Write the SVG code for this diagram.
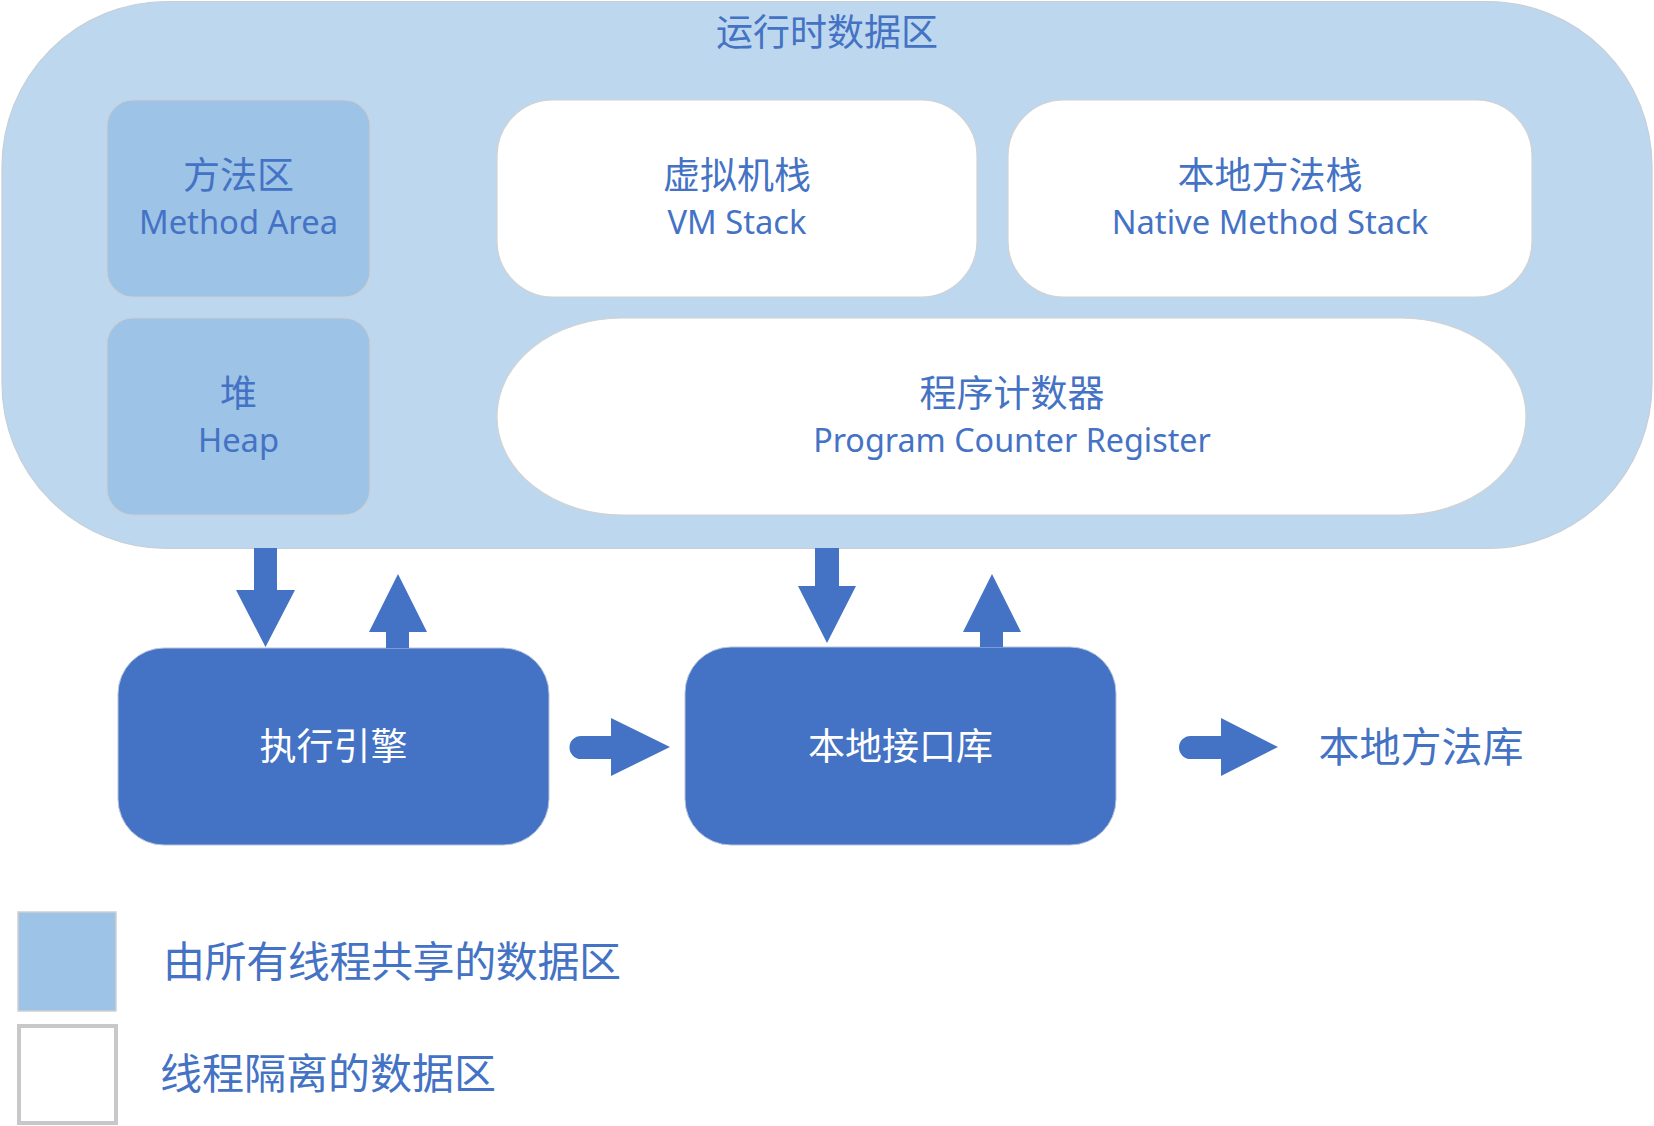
<svg xmlns="http://www.w3.org/2000/svg" width="1654" height="1126" viewBox="0 0 1654 1126">
<style>
text{font-family:"Noto Sans","Noto Sans CJK SC",sans-serif;text-anchor:middle;fill:#4472C4}
.cjk{font-size:37px}
.lat{font-size:32.7px}
.white{fill:#FFFFFF}
.shared{fill:#9DC3E6;stroke:#CFCFCF;stroke-width:1.2}
.private{fill:#FFFFFF;stroke:#D2D2D2;stroke-width:1.2}
.engine{fill:#4472C4;stroke:#B8C4D8;stroke-width:1}
.arrow{fill:#4472C4}
</style>
<g id="runtime-data-area">
<rect x="2" y="1.5" width="1650" height="547" rx="165" ry="165" fill="#BDD7EE" stroke="#C6CFD9" stroke-width="1.2"/>
<text x="827" y="46" style="font-size:37px">运行时数据区</text>
</g>
<g id="method-area">
<rect class="shared" x="107" y="100" width="263" height="197" rx="26" ry="26"/>
<text class="cjk" x="238.5" y="189">方法区</text>
<text class="lat" x="238.5" y="234">Method Area</text>
</g>
<g id="heap">
<rect class="shared" x="107" y="318" width="263" height="197" rx="26" ry="26"/>
<text class="cjk" x="238.5" y="407">堆</text>
<text class="lat" x="238.5" y="452">Heap</text>
</g>
<g id="vm-stack">
<rect class="private" x="497" y="100" width="480" height="197" rx="56" ry="56"/>
<text class="cjk" x="737" y="189">虚拟机栈</text>
<text class="lat" x="737" y="234">VM Stack</text>
</g>
<g id="native-method-stack">
<rect class="private" x="1008" y="100" width="524" height="197" rx="56" ry="56"/>
<text class="cjk" x="1270" y="189">本地方法栈</text>
<text class="lat" x="1270" y="234">Native Method Stack</text>
</g>
<g id="program-counter">
<rect class="private" x="497" y="318" width="1029" height="197" rx="125" ry="98"/>
<text class="cjk" x="1012" y="407">程序计数器</text>
<text class="lat" x="1012" y="452" style="font-size:32.3px">Program Counter Register</text>
</g>
<g id="execution-engine">
<rect class="engine" x="118" y="648" width="431" height="197" rx="46" ry="46"/>
<text class="cjk white" x="333.5" y="760">执行引擎</text>
</g>
<g id="native-interface">
<rect class="engine" x="685" y="647" width="431" height="198" rx="46" ry="46"/>
<text class="cjk white" x="900.5" y="760">本地接口库</text>
</g>
<g id="native-library">
<text x="1421" y="762" style="font-size:41px">本地方法库</text>
</g>
<g id="connectors">
<path class="arrow" d="M254 548 L277 548 L277 590 L295 590 L265.5 647 L236 590 L254 590 Z"/>
<path class="arrow" d="M386 648 L386 632 L369 632 L398 574 L427 632 L409 632 L409 648 Z"/>
<path class="arrow" d="M815 548 L839 548 L839 586 L856 586 L827 643 L798 586 L815 586 Z"/>
<path class="arrow" d="M980 647 L980 632 L963 632 L992 574 L1021 632 L1003 632 L1003 647 Z"/>
<path class="arrow" d="M581 736 L611 736 L611 718 L670 747 L611 776 L611 759 L581 759 A11.5 11.5 0 0 1 581 736 Z"/>
<path class="arrow" d="M1190.5 736 L1221 736 L1221 718 L1278 747 L1221 776 L1221 759 L1190.5 759 A11.5 11.5 0 0 1 1190.5 736 Z"/>
</g>
<g id="legend-shared">
<rect x="18" y="912" width="98" height="99" fill="#9DC3E6" stroke="#CFCFCF" stroke-width="1.5"/>
<text x="163" y="977" textLength="458" lengthAdjust="spacing" style="font-size:42px;text-anchor:start">由所有线程共享的数据区</text>
</g>
<g id="legend-private">
<rect x="19" y="1026" width="97" height="97" fill="#FFFFFF" stroke="#C8C8C8" stroke-width="4"/>
<text x="160" y="1089" style="font-size:42px;text-anchor:start">线程隔离的数据区</text>
</g>
</svg>
